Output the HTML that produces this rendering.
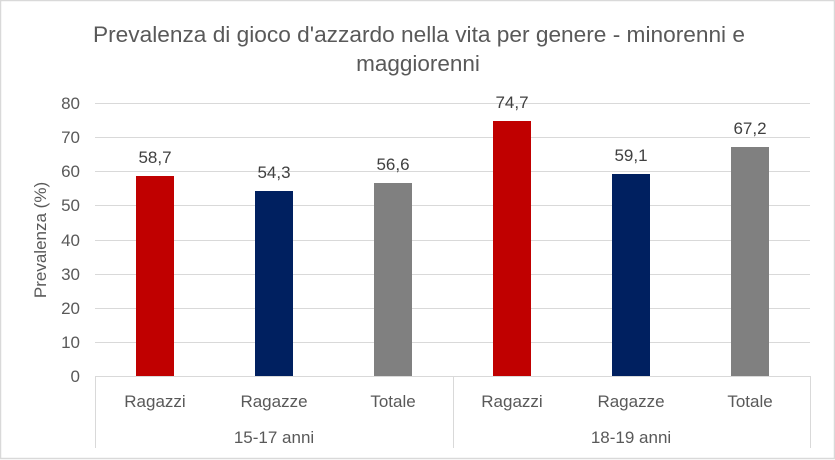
<!DOCTYPE html>
<html><head><meta charset="utf-8"><style>
body{margin:0;background:#fff}
svg{display:block;font-family:"Liberation Sans",sans-serif}
</style></head><body>
<svg width="835" height="460" viewBox="0 0 835 460">
<rect x="0.5" y="0.5" width="834" height="458" fill="#fff" stroke="#d9d9d9" stroke-width="1.5"/>
<text x="419" y="42" text-anchor="middle" font-size="22.5" fill="#595959" textLength="652" lengthAdjust="spacingAndGlyphs">Prevalenza di gioco d'azzardo nella vita per genere - minorenni e</text>
<text x="418" y="71" text-anchor="middle" font-size="22.5" fill="#595959">maggiorenni</text>
<g stroke="#d9d9d9" stroke-width="1">
<line x1="95" x2="810" y1="103.5" y2="103.5"/>
<line x1="95" x2="810" y1="137.5" y2="137.5"/>
<line x1="95" x2="810" y1="171.5" y2="171.5"/>
<line x1="95" x2="810" y1="205.5" y2="205.5"/>
<line x1="95" x2="810" y1="240.5" y2="240.5"/>
<line x1="95" x2="810" y1="274.5" y2="274.5"/>
<line x1="95" x2="810" y1="308.5" y2="308.5"/>
<line x1="95" x2="810" y1="342.5" y2="342.5"/>
<line x1="95" x2="810" y1="376.5" y2="376.5"/>
<line x1="95.5" x2="95.5" y1="376" y2="448"/>
<line x1="453.5" x2="453.5" y1="376" y2="448"/>
<line x1="810.5" x2="810.5" y1="376" y2="448"/>
</g>
<g font-size="17" fill="#595959" text-anchor="end">
<text x="80" y="109">80</text><text x="80" y="143">70</text><text x="80" y="177">60</text>
<text x="80" y="211">50</text><text x="80" y="246">40</text><text x="80" y="280">30</text>
<text x="80" y="314">20</text><text x="80" y="348">10</text><text x="80" y="382">0</text>
</g>
<text transform="translate(46,240) rotate(-90)" text-anchor="middle" font-size="17" fill="#595959">Prevalenza (%)</text>
<rect x="136" y="176" width="38" height="200" fill="#c00000"/>
<rect x="255" y="191" width="38" height="185" fill="#002060"/>
<rect x="374" y="183" width="38" height="193" fill="#808080"/>
<rect x="493" y="121" width="38" height="255" fill="#c00000"/>
<rect x="612" y="174" width="38" height="202" fill="#002060"/>
<rect x="731" y="147" width="38" height="229" fill="#808080"/>
<g font-size="17" fill="#404040" text-anchor="middle">
<text x="155" y="163">58,7</text><text x="274" y="178">54,3</text><text x="393" y="170">56,6</text>
<text x="512" y="108">74,7</text><text x="631" y="161">59,1</text><text x="750" y="134">67,2</text>
</g>
<g font-size="17" fill="#595959" text-anchor="middle">
<text x="155" y="407">Ragazzi</text><text x="274" y="407">Ragazze</text><text x="393" y="407">Totale</text>
<text x="512" y="407">Ragazzi</text><text x="631" y="407">Ragazze</text><text x="750" y="407">Totale</text>
<text x="274" y="443">15-17 anni</text><text x="631" y="443">18-19 anni</text>
</g>
</svg>
</body></html>
